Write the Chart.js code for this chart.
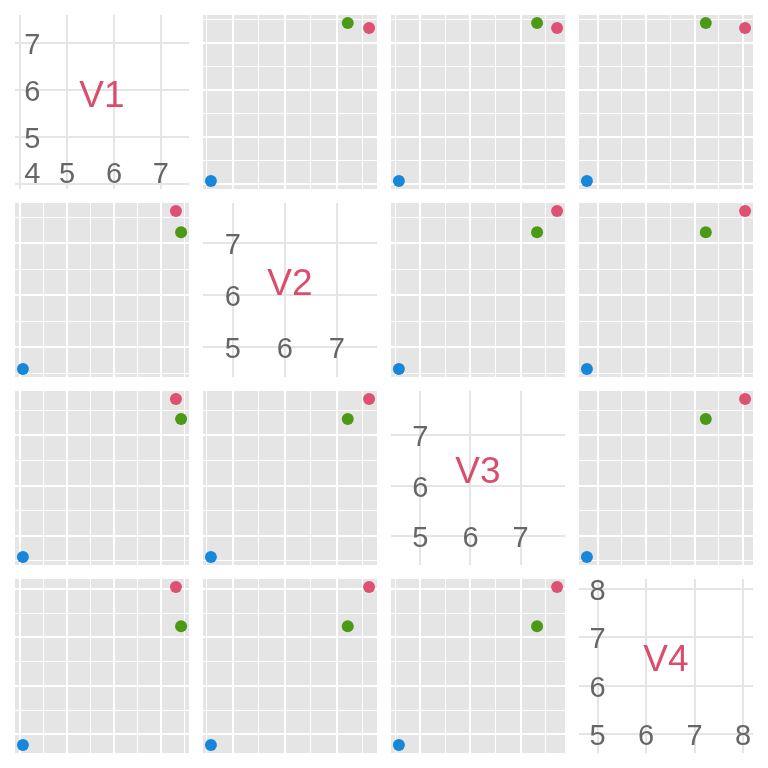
<!DOCTYPE html>
<html><head><meta charset="utf-8">
<script src="https://cdn.jsdelivr.net/npm/chart.js@4"></script>
<style>
html,body{margin:0;padding:0;background:#fff;width:768px;height:768px;overflow:hidden}
.p{position:absolute;width:174px;height:174px}
.p canvas{display:block}
</style></head><body>
<script>
const variables = ['V1', 'V2', 'V3', 'V4'];
const V1 = [4.06, 7.43, 7.32];
const V2 = [4.58, 7.21, 7.62];
const V3 = [4.57, 7.33, 7.73];
const V4 = [4.78, 7.23, 8.04];
const pointColors = ['#1787DA', '#4A9A15', '#DD5272'];
const diagTicks = [[4, 5, 6, 7], [5, 6, 7], [5, 6, 7], [5, 6, 7, 8]];

const values = [V1, V2, V3, V4];
const labelColor = '#DB4D6D';
const tickColor = '#666666';
const FONT = '"Liberation Sans", Arial, sans-serif';

function lim(v) {
  const lo = Math.min(...v), hi = Math.max(...v), d = hi - lo;
  return [lo - 0.05 * d, hi + 0.05 * d];
}
function halfSteps(l) {
  const out = [];
  for (let t = Math.ceil(l[0] * 2) / 2; t <= l[1] + 1e-9; t += 0.5) out.push(t);
  return out;
}

const diagPlugin = {
  id: 'diag',
  afterDraw(chart, args, opts) {
    if (!opts || !opts.label) return;
    const ctx = chart.ctx, x = chart.scales.x, y = chart.scales.y;
    const l = opts.lim, ticks = opts.ticks;
    const anchor = Math.max(ticks[0], l[0] + 0.1 * (l[1] - l[0]));
    const ax = x.getPixelForValue(anchor), ay = y.getPixelForValue(anchor);
    ctx.save();
    ctx.fillStyle = tickColor;
    ctx.font = '29px ' + FONT;
    ctx.textAlign = 'center';
    ctx.textBaseline = 'middle';
    ctx.fillText(String(ticks[0]), ax, ay + 3);
    ticks.slice(1).forEach(t => {
      ctx.fillText(String(t), x.getPixelForValue(t), ay + 3);
      ctx.fillText(String(t), ax, y.getPixelForValue(t) + 3);
    });
    const ca = chart.chartArea;
    ctx.fillStyle = labelColor;
    ctx.font = '37px ' + FONT;
    ctx.fillText(opts.label, (ca.left + ca.right) / 2, (ca.top + ca.bottom) / 2 - 5);
    ctx.restore();
  }
};

function axis(l, tickVals, diag) {
  return {
    type: 'linear', display: true, min: l[0], max: l[1],
    afterBuildTicks: s => { s.ticks = tickVals.map(v => ({ value: v })); },
    ticks: { display: false, padding: 0 },
    border: { display: false },
    grid: {
      drawTicks: false,
      color: diag ? '#E5E5E5' : '#FFFFFF',
      lineWidth: c => diag ? 2 : (Math.abs(c.tick.value - Math.round(c.tick.value)) < 1e-9 ? 2 : 1)
    }
  };
}

for (let r = 0; r < 4; r++) {
  for (let c = 0; c < 4; c++) {
    const div = document.createElement('div');
    div.className = 'p';
    div.style.left = (15 + 188 * c) + 'px';
    div.style.top = (15 + 188 * r) + 'px';
    div.style.background = r === c ? '#FFFFFF' : '#E5E5E5';
    const cv = document.createElement('canvas');
    cv.width = 174; cv.height = 174;
    div.appendChild(cv);
    document.body.appendChild(div);
    const lx = lim(values[c]), ly = lim(values[r]);
    const diag = r === c;
    const data = diag ? [] : values[c].map((v, i) => ({ x: v, y: values[r][i] }));
    new Chart(cv, {
      type: 'scatter',
      data: { datasets: [{ data: data, pointBackgroundColor: pointColors, pointBorderWidth: 0, pointRadius: 6, pointHoverRadius: 6, clip: false }] },
      options: {
        responsive: false, animation: false, events: [],
        layout: { padding: 0, autoPadding: false },
        plugins: {
          legend: { display: false }, tooltip: { enabled: false },
          diag: diag ? { label: variables[r], lim: lx, ticks: diagTicks[r] } : {}
        },
        scales: {
          x: axis(lx, diag ? diagTicks[c] : halfSteps(lx), diag),
          y: axis(ly, diag ? diagTicks[r] : halfSteps(ly), diag)
        }
      },
      plugins: [diagPlugin]
    });
  }
}
</script>
</body></html>
